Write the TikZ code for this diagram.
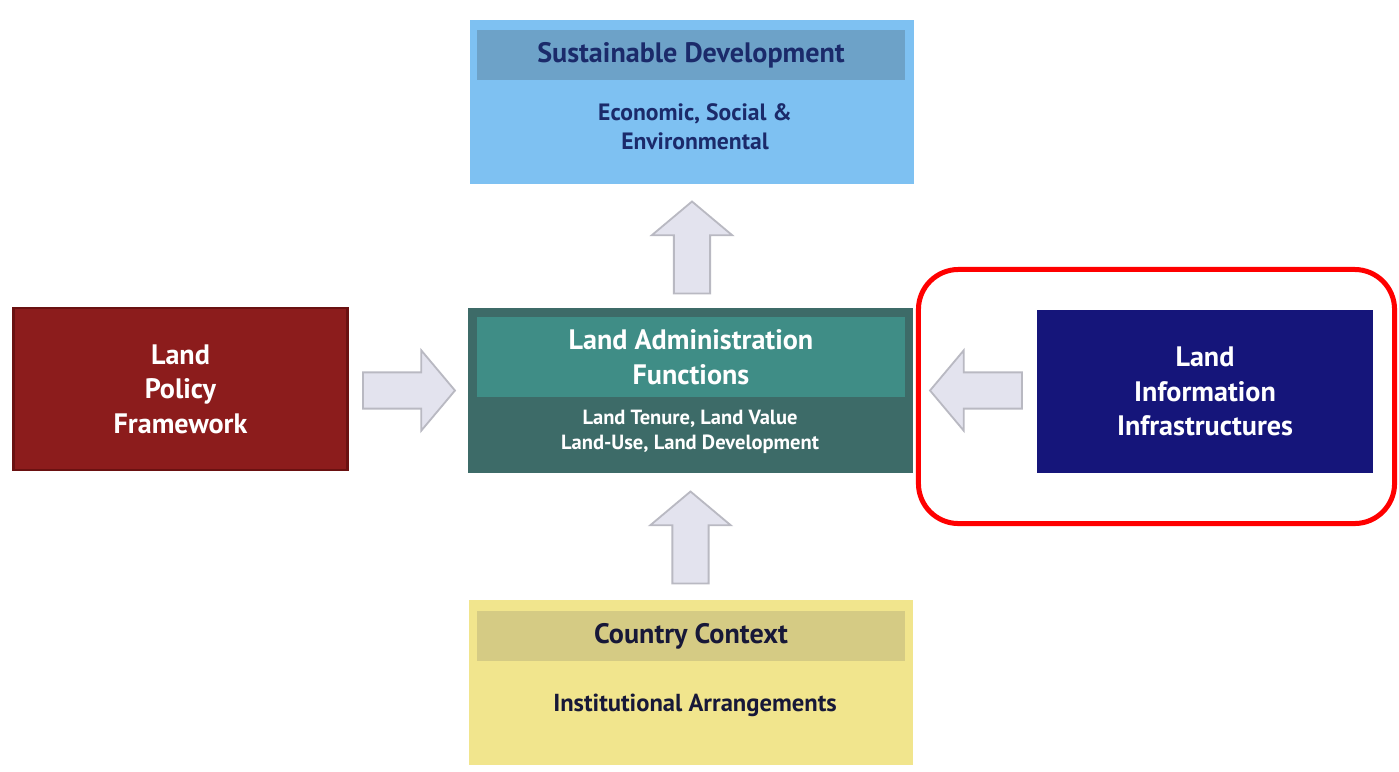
\documentclass[tikz,border=0pt]{standalone}
\usepackage{fontspec}
\setmainfont{PT Sans}
\usetikzlibrary{shapes.arrows,calc}

\definecolor{skyfill}{HTML}{7EC1F2}
\definecolor{skyband}{HTML}{6DA2C8}
\definecolor{tealfill}{HTML}{3D6B68}
\definecolor{tealband}{HTML}{3F8D86}
\definecolor{wine}{HTML}{8C1C1C}
\definecolor{wineedge}{HTML}{6A1111}
\definecolor{navyfill}{HTML}{15157A}
\definecolor{sandfill}{HTML}{F1E58D}
\definecolor{sandband}{HTML}{D5CB84}
\definecolor{inkblue}{HTML}{1B2A6A}
\definecolor{inkdark}{HTML}{171838}
\definecolor{arrowfill}{HTML}{E3E3EE}
\definecolor{arrowline}{HTML}{B9B9C2}

\begin{document}
\begin{tikzpicture}[x=0.025cm,y=-0.025cm,inner sep=0pt,
  box/.style={minimum width=11.1cm,minimum height=4.1cm},
  band/.style={minimum width=10.7cm},
  side/.style={minimum width=8.35cm,minimum height=4.05cm,align=center,text=white,
    font=\bfseries\fontsize{20}{24.5}\selectfont},
  bigtxt/.style={align=center,font=\bfseries\fontsize{20}{24.5}\selectfont},
  smalltxt/.style={align=center,font=\bfseries\fontsize{16.8}{20.5}\selectfont},
  flow/.style={single arrow,draw=arrowline,fill=arrowfill,line width=1.3pt,
    inner sep=0.43cm,anchor=tip,
    minimum height=2.3cm,minimum width=2cm,single arrow head extend=0.55cm,
    single arrow tip angle=100}]

\useasboundingbox (0,0) rectangle (1399,771);
\fill[white] (0,0) rectangle (1399,771);

% top
\node[box,fill=skyfill] (sdbox) at (692,102) {};
\node[band,minimum height=1.25cm,fill=skyband,bigtxt,text=inkblue] (sdhead) at (691,55) {Sustainable Development};
\node[smalltxt,text=inkblue] (sdsub) at (695,127) {Economic, Social \&\\Environmental};

% centre
\node[box,minimum height=4.125cm,fill=tealfill] (lafbox) at (690.5,390.5) {};
\node[band,minimum height=2cm,fill=tealband,bigtxt,text=white] (lafhead) at (691,357) {Land Administration\\Functions};
\node[align=center,text=white,font=\bfseries\fontsize{14.6}{17.5}\selectfont] (lafsub) at (690,432) {Land Tenure, Land Value\\Land-Use, Land Development};

% sides
\node[side,fill=wine,draw=wineedge,line width=1.5pt] (lpf) at (180.5,389) {Land\\Policy\\Framework};
\node[side,minimum width=8.4cm,minimum height=4.075cm,fill=navyfill] (lii) at (1205,391.5) {Land\\Information\\Infrastructures};
\node[draw=red,line width=0.125cm,rounded corners=1cm,minimum width=11.9cm,minimum height=6.35cm] (focus) at (1156.5,396.5) {};

% bottom
\node[box,minimum height=4.125cm,fill=sandfill] (ccbox) at (691,682.5) {};
\node[band,minimum height=1.25cm,fill=sandband,bigtxt,text=inkdark] (cchead) at (691,636) {Country Context};
\node[align=center,font=\bfseries\fontsize{17.5}{20.5}\selectfont,text=inkdark] (ccsub) at (695,705) {Institutional Arrangements};

% arrows
\node[flow,shape border rotate=90] (upper) at ($(sdbox.south)+(0,16)$) {};
\node[flow,shape border rotate=90] (lower) at ($(lafbox.south)+(0,17)$) {};
\node[flow] (fromleft) at ($(lafbox.west)+(-12,0)$) {};
\node[flow,shape border rotate=180] (fromright) at ($(lafbox.east)+(16,0)$) {};

\end{tikzpicture}
\end{document}
